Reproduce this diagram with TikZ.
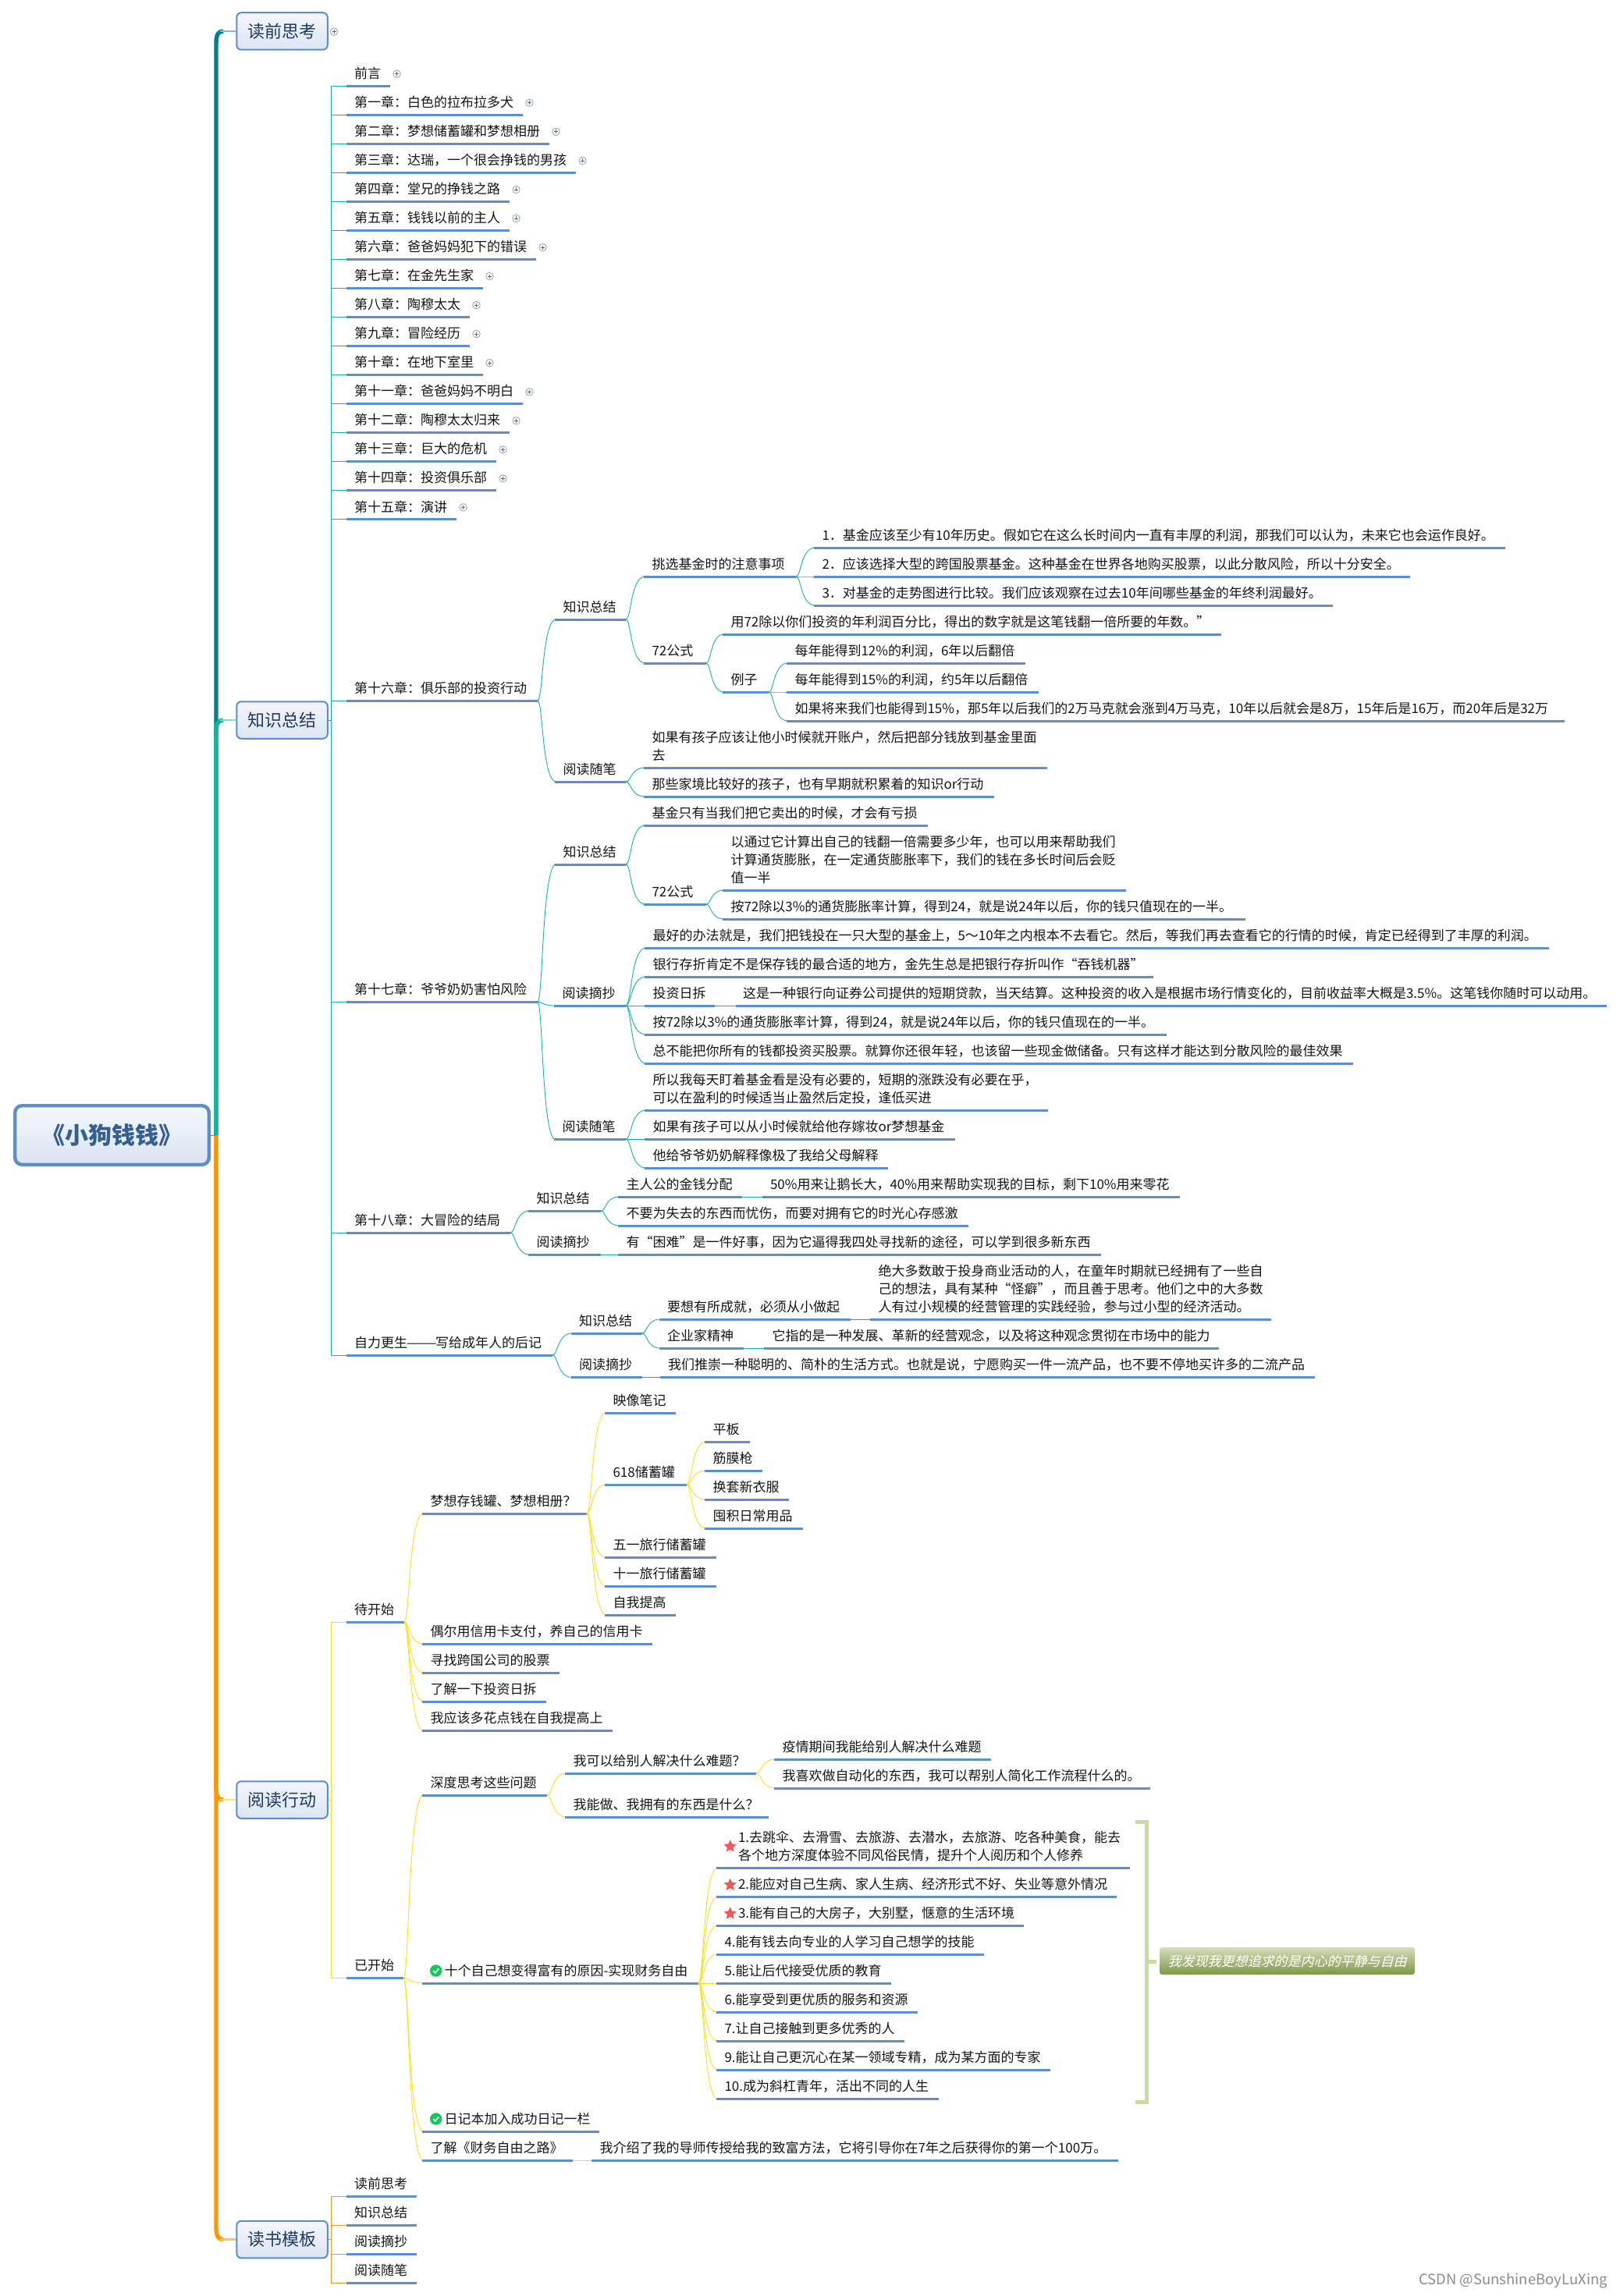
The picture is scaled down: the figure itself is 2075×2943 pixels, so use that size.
\documentclass[tikz,border=0pt]{standalone}
\usepackage{fontspec}
\usepackage{graphicx}
\setmainfont{Noto Sans CJK SC}
\newfontfamily\slantcjk[FakeSlant=0.25]{Noto Sans CJK SC}
\usetikzlibrary{calc,shapes.geometric}
\definecolor{ubar}{HTML}{5B8DD0}
\definecolor{tealD}{HTML}{00808F}
\definecolor{tealDl}{HTML}{7CC0D0}
\definecolor{tealL}{HTML}{10B5A5}
\definecolor{tealLl}{HTML}{7ADCC8}
\definecolor{oran}{HTML}{FF9800}
\definecolor{oranl}{HTML}{FFC060}
\definecolor{yell}{HTML}{FFDC14}
\definecolor{yelll}{HTML}{FFE566}
\definecolor{oranT}{HTML}{F09A20}
\definecolor{boxtxt}{HTML}{1F3A63}
\definecolor{roottxt}{HTML}{34608F}
\definecolor{brk}{HTML}{CADB9E}
\definecolor{fillT}{HTML}{F4F6FB}
\definecolor{fillB}{HTML}{DCE5F2}
\tikzset{
  topic/.style={anchor=south west,inner sep=0pt,outer sep=0pt,text=black!92,font=\fontsize{17}{23}\selectfont},
  uline/.style={draw=ubar,line width=3pt},
  tl/.style={draw=tealL,line width=.9pt},
  yl/.style={draw=yell,line width=.9pt},
  ol/.style={draw=oranT,line width=.9pt},
  mainbox/.style={rounded corners=6pt,draw=ubar,line width=2pt,top color=fillT,bottom color=fillB,
    minimum width=116.5pt,minimum height=47.5pt,inner sep=0pt,text=boxtxt,font=\fontsize{22}{26}\selectfont},
  rootbox/.style={rounded corners=9pt,draw=ubar,line width=4.4pt,top color=fillT,bottom color=fillB,
    minimum width=248.6pt,minimum height=75.6pt,inner sep=0pt,text=roottxt,font=\fontsize{30}{34}\selectfont\bfseries},
  plusic/.style={circle,draw=black!30!ubar!60,fill=white,line width=.8pt,minimum size=9.5pt,inner sep=0pt,
    path picture={\draw[line width=.8pt,black!60] (path picture bounding box.center) +(-2.5pt,0) -- +(2.5pt,0)
      (path picture bounding box.center) +(0,-2.5pt) -- +(0,2.5pt);}},
  staric/.style={star,star points=5,star point ratio=2.1,fill=starc,minimum size=17pt,inner sep=0pt},
  checkic/.style={circle,fill=okc,minimum size=15.5pt,inner sep=0pt},
  summ/.style={rounded corners=3pt,top color=sumT,bottom color=sumB,minimum width=327pt,minimum height=35pt,
    inner sep=0pt,text=white,font=\slantcjk\fontsize{17}{20}\selectfont},
  wm/.style={anchor=east,inner sep=0pt,text=black!45,font=\fontsize{18.5}{20}\selectfont},
}
\definecolor{starc}{HTML}{F25A5A}
\definecolor{okc}{HTML}{14C85C}
\definecolor{sumT}{HTML}{D4DDBB}
\definecolor{sumB}{HTML}{7C9846}
\newcommand\T[6][10.5]{%
  \pgfmathsetmacro\tw{#4-#3}%
  \node[topic] (#2) at (#3,#5) {\vbox{\hbox to \tw pt{\hspace*{#1pt}\begin{tabular}[b]{@{}l@{}}#6\end{tabular}\hss}\nointerlineskip\vbox to 3pt{}}};
  \draw[uline] (#2.south west) -- (#2.south east);
}
\newcommand\Cv[3]{\foreach \chd in {#3}{%
  \draw[#1] let \p1=(#2.south east),\p2=(\chd.south west) in (\p1) .. controls ({\x1+.3*(\x2-\x1)},\y1) and ({\x1+.25*(\x2-\x1)},{\y1+.92*(\y2-\y1)}) .. (\p2);}}
\newcommand\Ev[3]{\foreach \chd in {#3}{\draw[#1] (#2) |- (\chd.south west);}}
\newcommand\Ch[3]{%
  \pgfmathsetmacro\cy{110.3+37.04*#1}%
  \T{ch#1}{443.7}{#2}{\cy}{#3}
  \node[plusic] (pl#1) at ({#2+8.5},{\cy-15.5}) {};
}
% thick main branch from the root junction to a box: colour, light colour, box, side (+14 from below, -14 from above)
\newcommand\Br[4]{%
  \draw[line width=5.4pt,#1] (rj) -- ($(rj |- #3.west)+(0,#4)$) .. controls ($(rj |- #3.west)+(0,{#4*.25})$) and ($(rj |- #3.west)+(3,0)$) .. ($(rj |- #3.west)+(9,0)$);
  \draw[line width=2.2pt,#2] ($(rj |- #3.west)+(5,0)$) -- (#3.west);
}
\begin{document}
\begin{tikzpicture}[x=1pt,y=-1pt]
\useasboundingbox (0,0) rectangle (2075,2943);
% ------- main boxes
\node[rootbox] (root) at (143.5,1455) {《小狗钱钱》};
\node[mainbox] (b1) at (361.5,40) {读前思考};
\node[mainbox] (b2) at (361.5,923) {知识总结};
\node[mainbox] (b3) at (361.5,2307) {阅读行动};
\node[mainbox] (b4) at (361.5,2870.5) {读书模板};
\coordinate (rj) at (277,1455);
\Br{tealD}{tealDl}{b1}{16}
\Br{tealL}{tealLl}{b2}{16}
\Br{oran}{oranl}{b4}{-16}
\Br{oran}{yelll}{b3}{-16}
\draw[ubar,line width=1pt] (root.east) -- (rj);
\node[plusic] (plb1) at (428,40.6) {};
% ------- chapters
\Ch{0}{500}{前言}
\Ch{1}{670}{第一章：白色的拉布拉多犬}
\Ch{2}{704}{第二章：梦想储蓄罐和梦想相册}
\Ch{3}{738}{第三章：达瑞，一个很会挣钱的男孩}
\Ch{4}{653}{第四章：堂兄的挣钱之路}
\Ch{5}{653}{第五章：钱钱以前的主人}
\Ch{6}{687}{第六章：爸爸妈妈犯下的错误}
\Ch{7}{619}{第七章：在金先生家}
\Ch{8}{602}{第八章：陶穆太太}
\Ch{9}{602}{第九章：冒险经历}
\Ch{10}{619}{第十章：在地下室里}
\Ch{11}{670}{第十一章：爸爸妈妈不明白}
\Ch{12}{653}{第十二章：陶穆太太归来}
\Ch{13}{636}{第十三章：巨大的危机}
\Ch{14}{636}{第十四章：投资俱乐部}
\Ch{15}{585}{第十五章：演讲}
% ------- chapter 16
\T{c16}{443.7}{689}{898}{第十六章：俱乐部的投资行动}
\T{a1}{711}{802}{794}{知识总结}
\T{a2}{825}{1020}{739}{挑选基金时的注意事项}
\T{a3}{1043}{1929}{702}{1．基金应该至少有10年历史。假如它在这么长时间内一直有丰厚的利润，那我们可以认为，未来它也会运作良好。}
\T{a4}{1043}{1807}{739}{2．应该选择大型的跨国股票基金。这种基金在世界各地购买股票，以此分散风险，所以十分安全。}
\T{a5}{1043}{1708}{776}{3．对基金的走势图进行比较。我们应该观察在过去10年间哪些基金的年终利润最好。}
\T{a6}{825}{905}{850}{72公式}
\T{a7}{926}{1565}{813}{用72除以你们投资的年利润百分比，得出的数字就是这笔钱翻一倍所要的年数。”}
\T{a8}{926}{985}{887}{例子}
\T{a9}{1008}{1314}{850}{每年能得到12\%的利润，6年以后翻倍}
\T{a10}{1008}{1331}{887}{每年能得到15\%的利润，约5年以后翻倍}
\T{a11}{1008}{2005}{924}{如果将来我们也能得到15\%，那5年以后我们的2万马克就会涨到4万马克，10年以后就会是8万，15年后是16万，而20年后是32万}
\T{a12}{711}{802}{1002}{阅读随笔}
\T{a13}{825}{1342}{984}{如果有孩子应该让他小时候就开账户，然后把部分钱放到基金里面\\去}
\T{a14}{825}{1274}{1021}{那些家境比较好的孩子，也有早期就积累着的知识or行动}
\Cv{tl}{c16}{a1,a12}
\Cv{tl}{a1}{a2,a6}
\Cv{tl}{a2}{a3,a4,a5}
\Cv{tl}{a6}{a7,a8}
\Cv{tl}{a8}{a9,a10,a11}
\Cv{tl}{a12}{a13,a14}
% ------- chapter 17
\T{c17}{443.7}{689}{1284}{第十七章：爷爷奶奶害怕风险}
\T{d1}{711}{802}{1108}{知识总结}
\T{d2}{825}{1189}{1058}{基金只有当我们把它卖出的时候，才会有亏损}
\T{d3}{825}{905}{1159}{72公式}
\T{d4}{926}{1443}{1141}{以通过它计算出自己的钱翻一倍需要多少年，也可以用来帮助我们\\计算通货膨胀，在一定通货膨胀率下，我们的钱在多长时间后会贬\\值一半}
\T{d5}{926}{1596}{1178}{按72除以3\%的通货膨胀率计算，得到24，就是说24年以后，你的钱只值现在的一半。}
\T{d6}{710}{802}{1289}{阅读摘抄}
\T{d7}{826}{1985}{1215}{最好的办法就是，我们把钱投在一只大型的基金上，5～10年之内根本不去看它。然后，等我们再去查看它的行情的时候，肯定已经得到了丰厚的利润。}
\T{d8}{826}{1478}{1252}{银行存折肯定不是保存钱的最合适的地方，金先生总是把银行存折叫作“吞钱机器”}
\T{d9}{826}{916}{1289}{投资日拆}
\T[9]{d10}{943}{2059}{1289}{这是一种银行向证券公司提供的短期贷款，当天结算。这种投资的收入是根据市场行情变化的，目前收益率大概是3.5\%。这笔钱你随时可以动用。}
\T{d11}{826}{1495}{1326}{按72除以3\%的通货膨胀率计算，得到24，就是说24年以后，你的钱只值现在的一半。}
\T{d12}{826}{1734}{1363}{总不能把你所有的钱都投资买股票。就算你还很年轻，也该留一些现金做储备。只有这样才能达到分散风险的最佳效果}
\T{d13}{710}{802}{1460}{阅读随笔}
\T{d14}{826}{1343}{1423}{所以我每天盯着基金看是没有必要的，短期的涨跌没有必要在乎，\\可以在盈利的时候适当止盈然后定投，逢低买进}
\T{d15}{826}{1224}{1460}{如果有孩子可以从小时候就给他存嫁妆or梦想基金}
\T{d16}{826}{1138}{1497}{他给爷爷奶奶解释像极了我给父母解释}
\Cv{tl}{c17}{d1,d6,d13}
\Cv{tl}{d1}{d2,d3}
\Cv{tl}{d3}{d4,d5}
\Cv{tl}{d6}{d7,d8,d9,d11,d12}
\Cv{tl}{d9}{d10}
\Cv{tl}{d13}{d14,d15,d16}
% ------- chapter 18
\T{c18}{443.7}{654}{1580}{第十八章：大冒险的结局}
\T{e1}{677}{770}{1552}{知识总结}
\T{e2}{792}{951}{1534}{主人公的金钱分配}
\T{e3}{976.5}{1512}{1534}{50\%用来让鹅长大，40\%用来帮助实现我的目标，剩下10\%用来零花}
\T{e4}{792}{1240.5}{1571}{不要为失去的东西而忧伤，而要对拥有它的时光心存感激}
\T{e5}{677}{770}{1608}{阅读摘抄}
\T{e6}{792}{1410.5}{1608}{有“困难”是一件好事，因为它逼得我四处寻找新的途径，可以学到很多新东西}
\Cv{tl}{c18}{e1,e5}
\Cv{tl}{e1}{e2,e4}
\Cv{tl}{e2}{e3}
\Cv{tl}{e5}{e6}
% ------- afterword
\T{f0}{443.7}{708}{1737}{自力更生\makebox[36pt]{\scalebox{1.38}[1]{——}}写给成年人的后记}
\T{f1}{731.5}{823}{1709}{知识总结}
\T{f2}{844.5}{1089.5}{1691}{要想有所成就，必须从小做起}
\T{f3}{1115}{1629}{1691}{绝大多数敢于投身商业活动的人，在童年时期就已经拥有了一些自\\己的想法，具有某种“怪癖”，而且善于思考。他们之中的大多数\\人有过小规模的经营管理的实践经验，参与过小型的经济活动。}
\T{f4}{844.5}{953}{1728}{企业家精神}
\T{f5}{979}{1561.5}{1728}{它指的是一种发展、革新的经营观念，以及将这种观念贯彻在市场中的能力}
\T{f6}{731.5}{823}{1765.5}{阅读摘抄}
\T{f7}{845.5}{1685}{1765.5}{我们推崇一种聪明的、简朴的生活方式。也就是说，宁愿购买一件一流产品，也不要不停地买许多的二流产品}
\Cv{tl}{f0}{f1,f6}
\Cv{tl}{f1}{f2,f4}
\Cv{tl}{f2}{f3}
\Cv{tl}{f4}{f5}
\Cv{tl}{f6}{f7}
% ------- elbow of knowledge summary
\coordinate (k2) at (424.7,923);
\draw[tl] (b2.east) -- (k2);
\Ev{tl}{k2}{ch0,ch1,ch2,ch3,ch4,ch5,ch6,ch7,ch8,ch9,ch10,ch11,ch12,ch13,ch14,ch15,c16,c17,c18,f0}
% ------- reading action: to start
\T{g0}{443.7}{518}{2079}{待开始}
\T{g1}{541}{752}{1940}{梦想存钱罐、梦想相册？}
\T{g2}{775}{866}{1811}{映像笔记}
\T{g3}{775}{880}{1903}{618储蓄罐}
\T{g4}{903}{961}{1848}{平板}
\T{g5}{903}{977}{1885}{筋膜枪}
\T{g6}{903}{1011}{1922}{换套新衣服}
\T{g7}{903}{1029}{1959}{囤积日常用品}
\T{g8}{775}{917.5}{1996}{五一旅行储蓄罐}
\T{g9}{775}{917.5}{2033}{十一旅行储蓄罐}
\T{g10}{775}{866}{2070}{自我提高}
\T{g11}{541}{836}{2107}{偶尔用信用卡支付，养自己的信用卡}
\T{g12}{541}{717}{2144}{寻找跨国公司的股票}
\T{g13}{541}{700}{2181}{了解一下投资日拆}
\T{g14}{541}{785}{2218}{我应该多花点钱在自我提高上}
\Cv{yl}{g0}{g1,g11,g12,g13,g14}
\Cv{yl}{g1}{g2,g3,g8,g9,g10}
\Cv{yl}{g3}{g4,g5,g6,g7}
% ------- reading action: started
\T{h0}{443.7}{517}{2535}{已开始}
\T{h1}{541}{701}{2301}{深度思考这些问题}
\T{h2}{724}{969}{2273}{我可以给别人解决什么难题？}
\T{h3}{992}{1270}{2255}{疫情期间我能给别人解决什么难题}
\T{h4}{992}{1474}{2292}{我喜欢做自动化的东西，我可以帮别人简化工作流程什么的。}
\T{h5}{724}{985}{2329}{我能做、我拥有的东西是什么？}
\T[28.5]{h6}{541}{895}{2542}{十个自己想变得富有的原因-实现财务自由}
\T[28]{i1}{918}{1448}{2394}{1.去跳伞、去滑雪、去旅游、去潜水，去旅游、吃各种美食，能去\\各个地方深度体验不同风俗民情，提升个人阅历和个人修养}
\T[28]{i2}{918}{1431}{2431}{2.能应对自己生病、家人生病、经济形式不好、失业等意外情况}
\T[28]{i3}{918}{1312}{2468}{3.能有自己的大房子，大别墅，惬意的生活环境}
\T{i4}{918}{1261}{2505}{4.能有钱去向专业的人学习自己想学的技能}
\T{i5}{918}{1142}{2542}{5.能让后代接受优质的教育}
\T{i6}{918}{1176}{2579}{6.能享受到更优质的服务和资源}
\T{i7}{918}{1159}{2616}{7.让自己接触到更多优秀的人}
\T{i9}{918}{1346}{2653}{9.能让自己更沉心在某一领域专精，成为某方面的专家}
\T{i10}{918}{1203}{2690}{10.成为斜杠青年，活出不同的人生}
\T[28.5]{h7}{541}{768}{2732}{日记本加入成功日记一栏}
\T{h8}{541}{734}{2769.5}{了解《财务自由之路》}
\T{h9}{758}{1433}{2769.5}{我介绍了我的导师传授给我的致富方法，它将引导你在7年之后获得你的第一个100万。}
\Cv{yl}{h0}{h1,h6,h7,h8}
\Cv{yl}{h1}{h2,h5}
\Cv{yl}{h2}{h3,h4}
\Cv{yl}{h6}{i1,i2,i3,i4,i5,i6,i7,i9,i10}
\Cv{yl}{h8}{h9}
\node[staric] (s1) at (935.7,2366.7) {};
\node[staric] (s2) at (935.7,2416) {};
\node[staric] (s3) at (935.7,2452.7) {};
\node[checkic] (ok1) at (558.7,2526) {};
\draw[white,line width=1.6pt] ($(ok1)+(-3.5,0)$) -- ($(ok1)+(-1,2.8)$) -- ($(ok1)+(3.5,-2.6)$);
\node[checkic] (ok2) at (558.7,2716) {};
\draw[white,line width=1.6pt] ($(ok2)+(-3.5,0)$) -- ($(ok2)+(-1,2.8)$) -- ($(ok2)+(3.5,-2.6)$);
% summary bracket
\node[summ] (sum) at (1649.5,2513.5) {我发现我更想追求的是内心的平静与自由};
\coordinate (bt) at (1455,2335);
\coordinate (bb) at (1455,2694);
\coordinate (bm) at (1469,2514);
\coordinate (bn) at (1481.5,2514);
\draw[brk,line width=5pt] (bt) -| (bm) |- (bb);
\draw[brk,line width=5pt] (bm) -- (bn);
\coordinate (k3) at (424.7,2307);
\draw[yl] (b3.east) -- (k3);
\Ev{yl}{k3}{g0,h0}
% ------- template
\T{j1}{443.7}{534}{2815.5}{读前思考}
\T{j2}{443.7}{534}{2852}{知识总结}
\T{j3}{443.7}{534}{2889}{阅读摘抄}
\T{j4}{443.7}{534}{2926}{阅读随笔}
\coordinate (k4) at (424.7,2870.5);
\draw[ol] (b4.east) -- (k4);
\Ev{ol}{k4}{j1,j2,j3,j4}
\node[wm] (mark) at (2060,2923) {CSDN @SunshineBoyLuXing};
\end{tikzpicture}
\end{document}
